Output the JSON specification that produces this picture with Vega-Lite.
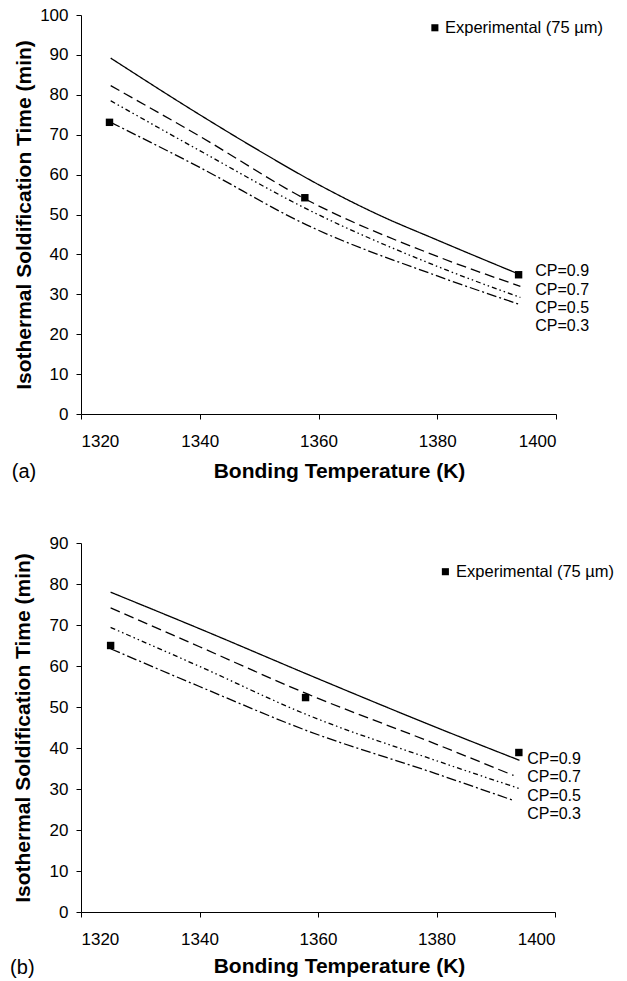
{
  "$schema": "https://vega.github.io/schema/vega-lite/v6.json",
  "padding": {"left": 10, "top": 6, "right": 5, "bottom": 2},
  "spacing": 51,
  "background": "white",
  "config": {
    "view": {"stroke": null},
    "font": "Liberation Sans",
    "axis": {
      "grid": false,
      "domainColor": "black",
      "domainWidth": 1,
      "tickColor": "black",
      "tickWidth": 1,
      "tickSize": 5,
      "labelOverlap": false,
      "labelFont": "Liberation Sans",
      "labelFontSize": 17,
      "labelColor": "black",
      "titleFont": "Liberation Sans",
      "titleFontSize": 21,
      "titleFontWeight": "bold",
      "titleColor": "black"
    }
  },
  "datasets": {
    "curvesA": [
      {"T": 1325, "time": 89.2, "CP": "CP=0.9"},
      {"T": 1340, "time": 75.0, "CP": "CP=0.9"},
      {"T": 1350, "time": 66.0, "CP": "CP=0.9"},
      {"T": 1360, "time": 57.5, "CP": "CP=0.9"},
      {"T": 1370, "time": 50.0, "CP": "CP=0.9"},
      {"T": 1380, "time": 43.6, "CP": "CP=0.9"},
      {"T": 1394, "time": 34.9, "CP": "CP=0.9"},
      {"T": 1325, "time": 82.3, "CP": "CP=0.7"},
      {"T": 1340, "time": 69.6, "CP": "CP=0.7"},
      {"T": 1358, "time": 53.7, "CP": "CP=0.7"},
      {"T": 1380, "time": 39.5, "CP": "CP=0.7"},
      {"T": 1394, "time": 32.0, "CP": "CP=0.7"},
      {"T": 1325, "time": 78.5, "CP": "CP=0.5"},
      {"T": 1340, "time": 66.0, "CP": "CP=0.5"},
      {"T": 1358, "time": 51.4, "CP": "CP=0.5"},
      {"T": 1380, "time": 37.0, "CP": "CP=0.5"},
      {"T": 1394, "time": 29.2, "CP": "CP=0.5"},
      {"T": 1325, "time": 73.1, "CP": "CP=0.3"},
      {"T": 1340, "time": 61.8, "CP": "CP=0.3"},
      {"T": 1358, "time": 47.4, "CP": "CP=0.3"},
      {"T": 1380, "time": 34.6, "CP": "CP=0.3"},
      {"T": 1394, "time": 27.4, "CP": "CP=0.3"}
    ],
    "curvesB": [
      {"T": 1325, "time": 78.0, "CP": "CP=0.9"},
      {"T": 1340, "time": 69.1, "CP": "CP=0.9"},
      {"T": 1360, "time": 56.9, "CP": "CP=0.9"},
      {"T": 1380, "time": 45.0, "CP": "CP=0.9"},
      {"T": 1394, "time": 37.0, "CP": "CP=0.9"},
      {"T": 1325, "time": 74.2, "CP": "CP=0.7"},
      {"T": 1340, "time": 64.7, "CP": "CP=0.7"},
      {"T": 1358, "time": 53.3, "CP": "CP=0.7"},
      {"T": 1380, "time": 40.9, "CP": "CP=0.7"},
      {"T": 1393, "time": 33.3, "CP": "CP=0.7"},
      {"T": 1325, "time": 69.4, "CP": "CP=0.5"},
      {"T": 1340, "time": 59.9, "CP": "CP=0.5"},
      {"T": 1358, "time": 48.2, "CP": "CP=0.5"},
      {"T": 1380, "time": 36.9, "CP": "CP=0.5"},
      {"T": 1394, "time": 30.1, "CP": "CP=0.5"},
      {"T": 1325, "time": 64.2, "CP": "CP=0.3"},
      {"T": 1340, "time": 55.0, "CP": "CP=0.3"},
      {"T": 1358, "time": 44.3, "CP": "CP=0.3"},
      {"T": 1380, "time": 33.7, "CP": "CP=0.3"},
      {"T": 1393, "time": 27.2, "CP": "CP=0.3"}
    ],
    "expA": [
      {"T": 1324.8, "time": 73.1},
      {"T": 1357.7, "time": 54.2},
      {"T": 1393.7, "time": 34.9}
    ],
    "expB": [
      {"T": 1325.0, "time": 65.0},
      {"T": 1357.9, "time": 52.3},
      {"T": 1393.9, "time": 38.9}
    ],
    "labelsA": [
      {"T": 1396.5, "time": 35.8, "label": "CP=0.9"},
      {"T": 1396.5, "time": 31.2, "label": "CP=0.7"},
      {"T": 1396.5, "time": 26.6, "label": "CP=0.5"},
      {"T": 1396.5, "time": 22.0, "label": "CP=0.3"}
    ],
    "labelsB": [
      {"T": 1395.3, "time": 37.4, "label": "CP=0.9"},
      {"T": 1395.3, "time": 32.9, "label": "CP=0.7"},
      {"T": 1395.3, "time": 28.3, "label": "CP=0.5"},
      {"T": 1395.3, "time": 23.9, "label": "CP=0.3"}
    ],
    "keySymA": [{"T": 1379.6, "time": 96.8}],
    "keyTextA": [{"T": 1381.3, "time": 96.8, "label": "Experimental (75 µm)"}],
    "keySymB": [{"T": 1381.5, "time": 83.0}],
    "keyTextB": [{"T": 1383.3, "time": 83.0, "label": "Experimental (75 µm)"}],
    "tagA": [{"T": 1310.4, "time": -14.6, "label": "(a)"}],
    "tagB": [{"T": 1310.1, "time": -13.6, "label": "(b)"}]
  },
  "vconcat": [
    {
      "width": 475,
      "height": 399,
      "encoding": {
        "x": {"field": "T", "type": "quantitative", "scale": {"domain": [1320, 1400], "nice": false},
              "axis": {"title": "Bonding Temperature (K)", "values": [1320, 1340, 1360, 1380, 1400], "tickCount": 10, "format": "d", "labelPadding": 14, "titlePadding": 11, "titleX": 258}},
        "y": {"field": "time", "type": "quantitative", "scale": {"domain": [0, 100], "nice": false},
              "axis": {"title": "Isothermal Soldification Time (min)", "values": [0, 10, 20, 30, 40, 50, 60, 70, 80, 90, 100], "tickCount": 12, "labelOverlap": false, "format": "d", "labelPadding": 8, "titlePadding": 5}}
      },
      "layer": [
        {
          "data": {"name": "curvesA"},
          "mark": {"type": "line", "interpolate": "monotone", "strokeWidth": 1.3, "color": "black"},
          "encoding": {
            "strokeDash": {"field": "CP", "type": "nominal", "legend": null,
                           "scale": {"domain": ["CP=0.9", "CP=0.7", "CP=0.5", "CP=0.3"], "range": [[1, 0], [10, 5], [5, 3, 1.5, 3, 1.5, 3], [10, 3, 2, 3]]}}
          }
        },
        {
          "data": {"name": "expA"},
          "mark": {"type": "point", "shape": "square", "filled": true, "size": 55, "color": "black", "opacity": 1}
        },
        {
          "data": {"name": "labelsA"},
          "mark": {"type": "text", "align": "left", "baseline": "middle", "fontSize": 16, "color": "black"},
          "encoding": {"text": {"field": "label"}}
        },
        {
          "data": {"name": "keySymA"},
          "mark": {"type": "point", "shape": "square", "filled": true, "size": 50, "color": "black", "opacity": 1}
        },
        {
          "data": {"name": "keyTextA"},
          "mark": {"type": "text", "align": "left", "baseline": "middle", "fontSize": 16.5, "color": "black"},
          "encoding": {"text": {"field": "label"}}
        },
        {
          "data": {"name": "tagA"},
          "mark": {"type": "text", "align": "center", "baseline": "middle", "fontSize": 20, "color": "black"},
          "encoding": {"text": {"field": "label"}}
        }
      ]
    },
    {
      "width": 474,
      "height": 369,
      "encoding": {
        "x": {"field": "T", "type": "quantitative", "scale": {"domain": [1320, 1400], "nice": false},
              "axis": {"title": "Bonding Temperature (K)", "values": [1320, 1340, 1360, 1380, 1400], "tickCount": 10, "format": "d", "labelPadding": 14, "titlePadding": 8, "titleX": 258}},
        "y": {"field": "time", "type": "quantitative", "scale": {"domain": [0, 90], "nice": false},
              "axis": {"title": "Isothermal Soldification Time (min)", "values": [0, 10, 20, 30, 40, 50, 60, 70, 80, 90], "tickCount": 12, "labelOverlap": false, "format": "d", "labelPadding": 8, "titlePadding": 16}}
      },
      "layer": [
        {
          "data": {"name": "curvesB"},
          "mark": {"type": "line", "interpolate": "monotone", "strokeWidth": 1.3, "color": "black"},
          "encoding": {
            "strokeDash": {"field": "CP", "type": "nominal", "legend": null,
                           "scale": {"domain": ["CP=0.9", "CP=0.7", "CP=0.5", "CP=0.3"], "range": [[1, 0], [10, 5], [5, 3, 1.5, 3, 1.5, 3], [10, 3, 2, 3]]}}
          }
        },
        {
          "data": {"name": "expB"},
          "mark": {"type": "point", "shape": "square", "filled": true, "size": 55, "color": "black", "opacity": 1}
        },
        {
          "data": {"name": "labelsB"},
          "mark": {"type": "text", "align": "left", "baseline": "middle", "fontSize": 16, "color": "black"},
          "encoding": {"text": {"field": "label"}}
        },
        {
          "data": {"name": "keySymB"},
          "mark": {"type": "point", "shape": "square", "filled": true, "size": 50, "color": "black", "opacity": 1}
        },
        {
          "data": {"name": "keyTextB"},
          "mark": {"type": "text", "align": "left", "baseline": "middle", "fontSize": 16.5, "color": "black"},
          "encoding": {"text": {"field": "label"}}
        },
        {
          "data": {"name": "tagB"},
          "mark": {"type": "text", "align": "center", "baseline": "middle", "fontSize": 20, "color": "black"},
          "encoding": {"text": {"field": "label"}}
        }
      ]
    }
  ]
}
